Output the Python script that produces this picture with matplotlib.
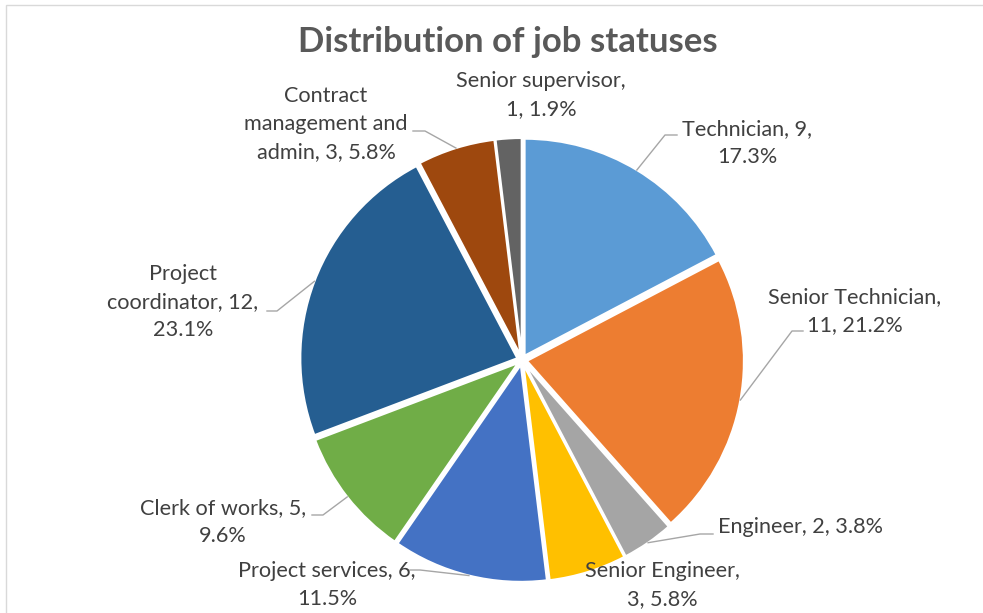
import numpy as np
import matplotlib
matplotlib.use("Agg")
import matplotlib.pyplot as plt

# Job status breakdown
roles = ["Technician", "Senior Technician", "Engineer", "Senior Engineer",
         "Project services", "Clerk of works", "Project coordinator",
         "Contract management and admin", "Senior supervisor"]
counts = [9, 11, 2, 3, 6, 5, 12, 3, 1]
colors = ["#5B9BD5", "#ED7D31", "#A5A5A5", "#FFC000", "#4472C4",
          "#70AD47", "#255E91", "#9E480E", "#636363"]

# Label text, wrapped the way it is displayed
label_text = [
    "Technician, 9,\n17.3%",
    "Senior Technician,\n11, 21.2%",
    "Engineer, 2, 3.8%",
    "Senior Engineer,\n3, 5.8%",
    "Project services, 6,\n11.5%",
    "Clerk of works, 5,\n9.6%",
    "Project\ncoordinator, 12,\n23.1%",
    "Contract\nmanagement and\nadmin, 3, 5.8%",
    "Senior supervisor,\n1, 1.9%",
]

W, H = 983, 613
FONT = ["Lato", "DejaVu Sans"]


def px(x, y):
    """Pixel position (origin top-left) to axes coordinates."""
    return x, H - y


fig = plt.figure(figsize=(W / 100, H / 100), dpi=100)
ax = fig.add_axes([0, 0, 1, 1])

cx, cy = px(522, 360)
R = 217
gap = 5

# explode is an absolute offset in data units here
ax.pie(counts, colors=colors, startangle=90, counterclock=False,
       center=(cx, cy), radius=R, explode=[gap] * len(counts),
       wedgeprops=dict(edgecolor="white", linewidth=1.5))

ax.set_xlim(0, W)
ax.set_ylim(0, H)
ax.set_aspect("equal")
ax.axis("off")

# chart area border (top and left edges)
ax.plot([6, 6, W + 5], [-5, H - 5, H - 5], color="#D9D9D9", lw=1.0,
        solid_joinstyle="miter")

# Title
ax.text(*px(508, 42), "Distribution of job statuses", ha="center",
        va="center", fontsize=25, fontweight="bold", color="#595959",
        family=FONT)

# Label block centres and alignment
label_pos = [(747, 143), (855, 311), (718, 527), (662, 585), (327, 585),
             (223, 522), (183, 302), (326, 124), (541, 95)]
label_ha = ["center", "center", "left", "center", "center",
            "center", "center", "center", "center"]

# Leader lines: (text-side end, elbow); None where no leader is drawn
leaders = [((677, 135), (665, 135)),
           ((803, 331), (792, 331)),
           ((713, 534), (700, 534)),
           None,
           ((410, 570), (420, 570)),
           ((312, 515), (323, 515)),
           ((267, 311), (277, 311)),
           ((413, 131), (425, 131)),
           None]

total = sum(counts)
cum = np.cumsum([0] + counts)
for i, c in enumerate(counts):
    ax.text(*px(*label_pos[i]), label_text[i], ha=label_ha[i], va="center",
            multialignment="center", fontsize=15.6, color="#404040",
            family=FONT, linespacing=1.5)
    if leaders[i] is None:
        continue
    mid = 90 - 360 * (cum[i] + c / 2) / total
    a = np.deg2rad(mid)
    ax_ = cx + (R + gap) * np.cos(a)
    ay_ = cy + (R + gap) * np.sin(a)
    (tx, ty), (ex, ey) = leaders[i]
    xs = [tx, ex, ax_]
    ys = [H - ty, H - ey, ay_]
    ax.plot(xs, ys, color="#A6A6A6", lw=1.0)

fig.savefig("out.png", dpi=100, facecolor="white")
